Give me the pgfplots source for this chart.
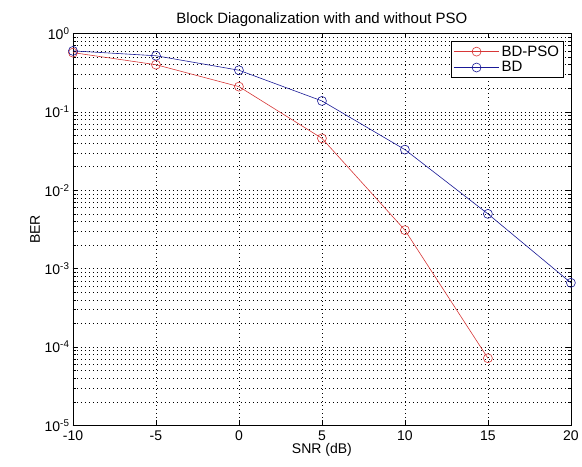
\documentclass[border=0pt]{standalone}
\usepackage{pgfplots}
\pgfplotsset{compat=1.18}
\usepackage{fontspec}
\setmainfont{Liberation Sans}
\definecolor{mred}{RGB}{215,55,55}
\definecolor{mblue}{RGB}{25,25,150}
\begin{document}
\begin{tikzpicture}
\begin{axis}[
    scale only axis,
    width=498pt, height=392pt,
    ymode=log,
    xmin=-10, xmax=20,
    ymin=1e-5, ymax=1,
    xtick={-10,-5,0,5,10,15,20},
    xticklabels={-10,-5,0,5,10,15,20},
    ytick={1e-5,1e-4,1e-3,1e-2,1e-1,1},
    yticklabels={10\textsuperscript{-5},10\textsuperscript{-4},10\textsuperscript{-3},10\textsuperscript{-2},10\textsuperscript{-1},10\textsuperscript{0}},
    minor x tick num=0,
    tick align=inside,
    major tick length=5pt,
    minor tick length=3pt,
    grid=both,
    major grid style={black, dash pattern=on 0.8pt off 3.2pt, line width=0.6pt},
    minor grid style={black, dash pattern=on 0.8pt off 3.2pt, line width=0.5pt},
    xminorgrids=false,
    axis line style={black, line width=0.7pt},
    every tick/.style={black, line width=0.5pt},
    tick label style={font=\fontsize{14}{16}\selectfont},
    xticklabel style={yshift=-2pt},
    label style={font=\fontsize{14}{16}\selectfont},
    title style={font=\fontsize{15}{17}\selectfont, yshift=-3pt},
    title={Block Diagonalization with and without PSO},
    xlabel={SNR (dB)},
    ylabel={BER},
    xlabel style={yshift=4pt},
    ylabel style={yshift=-2pt},
    legend style={at={(0.985,0.98)}, anchor=north east, draw=black, line width=0.6pt,
        font=\fontsize{15}{17}\selectfont, inner sep=2pt, row sep=0pt},
    legend cell align=left,
    legend image code/.code={
        \draw[#1, mark=none] (0cm,0cm) -- (1.6cm,0cm);
        \draw[#1, only marks] plot coordinates {(0.8cm,0cm)};
    },
]
\addplot[color=mred, line width=0.6pt, mark=o, mark size=4.5pt, mark options={line width=0.6pt}]
    coordinates {(-10,0.57)(-5,0.40)(0,0.21)(5,0.046)(10,0.0031)(15,7.2e-5)};
\addplot[color=mblue, line width=0.6pt, mark=o, mark size=4.5pt, mark options={line width=0.6pt}]
    coordinates {(-10,0.60)(-5,0.52)(0,0.34)(5,0.138)(10,0.033)(15,0.005)(20,6.6e-4)};
\legend{BD-PSO, BD}
\end{axis}
\path (current axis.south west) ++(-73pt,-41pt);
\path (current axis.north east) ++(11pt,33.5pt);
\end{tikzpicture}
\end{document}
